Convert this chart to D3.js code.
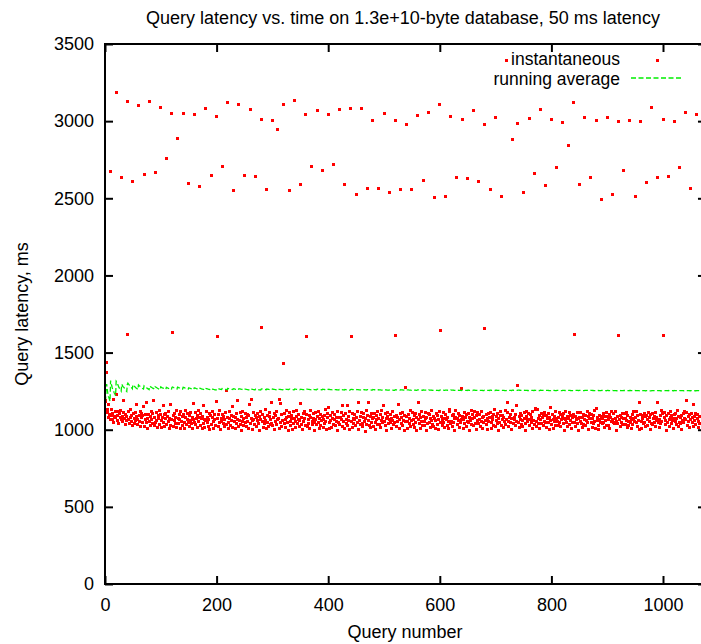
<!DOCTYPE html>
<html>
<head>
<meta charset="utf-8">
<script src="https://cdn.jsdelivr.net/npm/d3@7"></script>
<style>
  body { margin: 0; background: #fff; }
  text { font-family: "Liberation Sans", Arial, Helvetica, sans-serif; font-size: 18px; fill: #000; }
</style>
</head>
<body>
<svg id="chart" width="701" height="644"></svg>
<script>
const titleText = "Query latency vs. time on 1.3e+10-byte database, 50 ms latency";
const xLabel = "Query number";
const yLabel = "Query latency, ms";
const seriesNames = ["instantaneous", "running average"];
const xTicks = [0, 200, 400, 600, 800, 1000];
const yTicks = [0, 500, 1000, 1500, 2000, 2500, 3000, 3500];
const xMax = 1077;
const yMax = 3500;

// Latency of each query in ms, ten queries per row (row n = queries 10n .. 10n+9)
const latency = [
  1185, 1190, 1437, 1373, 1132, 1110, 1080, 1162, 1097, 1069,
  2673, 1089, 1128, 1067, 1104, 1193, 1050, 1083, 1121, 1076,
  3184, 1226, 1094, 1057, 1115, 1040, 1102, 1079, 1125, 1063,
  2634, 1086, 1051, 1109, 1190, 1073, 1034, 1100, 1062, 1088,
  3126, 1619, 1065, 1117, 1043, 1081, 1131, 1054, 1092, 1026,
  2608, 1107, 1072, 1038, 1113, 1060, 1085, 1166, 1031, 1069,
  3100, 1055, 1094, 1120, 1022, 1077, 1103, 1046, 1090, 1152,
  2654, 1019, 1066, 1101, 1048, 1174, 1075, 1010, 1097, 1052,
  3126, 1084, 1030, 1118, 1063, 1041, 1105, 1191, 1027, 1079,
  2667, 1045, 1111, 1058, 1016, 1089, 1071, 1123, 1034, 1098,
  3087, 1061, 1013, 1077, 1158, 1049, 1100, 1024, 1070, 1108,
  2757, 1036, 1083, 1119, 1054, 1005, 1075, 1164, 1029, 1067,
  3048, 1632, 1092, 1021, 1058, 1106, 1043, 1081, 1125, 1012,
  2887, 1074, 1039, 1100, 1065, 1008, 1116, 1053, 1085, 1028,
  3048, 1097, 1050, 1011, 1079, 1127, 1035, 1068, 1102, 1044,
  2596, 1022, 1091, 1059, 1113, 1040, 1006, 1076, 1172, 1063,
  3042, 1048, 1109, 1032, 1071, 1094, 1017, 1056, 1122, 1080,
  2576, 1103, 1026, 1075, 1009, 1088, 1160, 1041, 1067, 1015,
  3081, 1057, 1120, 1044, 1082, 1023, 1069, 1106, 1000, 1091,
  2647, 1033, 1078, 1115, 1052, 1007, 1099, 1064, 1028, 1182,
  3029, 1606, 1070, 1018, 1096, 1047, 1124, 1003, 1074, 1055,
  2705, 1101, 1042, 1083, 1021, 1066, 1110, 1256, 1037, 1076,
  3120, 1049, 1005, 1117, 1072, 1030, 1093, 1058, 1153, 1014,
  2550, 1085, 1053, 1008, 1079, 1106, 1040, 1189, 1066, 1023,
  3107, 1062, 1111, 1034,  996, 1088, 1051, 1119, 1073, 1027,
  2647, 1108, 1045, 1080, 1022, 1099, 1056, 1011, 1090, 1162,
  3074, 1039, 1198, 1075, 1058, 1003, 1114, 1067, 1032, 1095,
  2641, 1081, 1024, 1060, 1107, 1043,  998, 1086, 1069, 1121,
  3010, 1664, 1053, 1100, 1015, 1077, 1038, 1129, 1062, 1006,
  2557, 1094, 1050, 1019, 1083, 1112, 1031, 1068, 1174, 1042,
  3003, 1026, 1078, 1105, 1001, 1054, 1090, 1037, 1117, 1065,
  2945, 1072, 1009, 1198, 1172, 1046, 1098, 1021, 1059, 1426,
  3107, 1040, 1102, 1063, 1017, 1081, 1125, 1048,  994, 1087,
  2550, 1109, 1056, 1029, 1092, 1070, 1004, 1118, 1043, 1075,
  3133, 1051, 1013, 1084, 1127, 1039, 1066, 1101, 1022, 1060,
  2589, 1172, 1080, 1035,  999, 1108, 1052, 1073, 1116, 1028,
  3042, 1606, 1097, 1018, 1064, 1043, 1089, 1010, 1079, 1122,
  2705, 1055, 1031, 1103, 1075,  997, 1046, 1112, 1068, 1036,
  3068, 1086, 1121, 1049, 1007, 1072, 1100, 1025, 1058, 1083,
  2680, 1014, 1067, 1094, 1040, 1129, 1053, 1002, 1078, 1106,
  3042, 1146, 1045, 1011, 1091, 1060, 1016, 1074, 1110, 1033,
  2718, 1069, 1098, 1027, 1054, 1082,  995, 1115, 1044, 1076,
  3074, 1032, 1080, 1113, 1066, 1155, 1020, 1051, 1093, 1009,
  2589, 1103, 1038, 1063, 1155, 1026, 1084, 1057, 1000, 1119,
  3081, 1606, 1052, 1107, 1015, 1073, 1041, 1099, 1066, 1028,
  2524, 1081, 1120, 1047, 1176, 1004, 1062, 1088, 1035, 1111,
  3081, 1043, 1019, 1076, 1102, 1053,  991, 1070, 1124, 1037,
  2563, 1095, 1176, 1061, 1030, 1085, 1012, 1108, 1049, 1071,
  3003, 1018, 1079, 1104, 1045, 1000, 1090, 1063, 1117, 1032,
  2563, 1074, 1036, 1013, 1097, 1059, 1122, 1044, 1081, 1160,
  3048, 1053, 1106, 1027, 1071,  993, 1084, 1114, 1040, 1065,
  2537, 1100, 1048, 1075, 1009, 1119, 1057, 1031, 1088, 1046,
  3003, 1612, 1021, 1092, 1054, 1078, 1165, 1007, 1067, 1103,
  2557, 1039, 1077, 1113, 1028, 1062, 1095,  998, 1276, 1051,
  2977, 1083, 1055, 1006, 1098, 1040, 1072, 1126, 1019, 1060,
  2557, 1110, 1034, 1069, 1091, 1016, 1050, 1104, 1077,  997,
  3035, 1065, 1176, 1101, 1043, 1079, 1010, 1116, 1056, 1029,
  2615, 1088, 1025, 1052, 1111, 1070,  994, 1081, 1039, 1105,
  3055, 1047, 1096, 1014, 1073, 1123, 1058, 1031, 1085, 1020,
  2505, 1075, 1008, 1061, 1102, 1037, 1089, 1066, 1001, 1118,
  3107, 1645, 1050, 1083, 1026, 1067, 1109, 1044, 1075, 1012,
  2511, 1098, 1063, 1029, 1080, 1007, 1053, 1129, 1120, 1038,
  3029, 1056, 1090, 1018, 1044, 1101, 1071,  995, 1078, 1122,
  2634, 1032, 1074, 1106, 1059, 1017, 1094, 1048, 1269, 1065,
  3010, 1085, 1010, 1067, 1113, 1041, 1076, 1099, 1024, 1054,
  2628, 1108, 1049,  992, 1082, 1060, 1127, 1035, 1070, 1097,
  3068, 1027, 1080, 1115, 1043, 1003, 1091, 1062, 1109, 1038,
  2608, 1069, 1101, 1023, 1055, 1118, 1011, 1077, 1044, 1086,
  2977, 1658, 1058, 1096, 1032, 1071,  999, 1105, 1052, 1079,
  2557, 1113, 1046, 1009, 1084, 1065, 1028, 1100, 1132, 1021,
  3023, 1060, 1087, 1041, 1106,  998, 1073, 1048, 1089, 1115,
  2511, 1030, 1069, 1094, 1015, 1078, 1051, 1123, 1037, 1066,
  3393, 1176, 1111, 1056, 1020, 1082, 1045, 1097, 1003, 1074,
  2880, 1123, 1042, 1079, 1064, 1025, 1100, 1053, 1155, 1289,
  2984, 1048, 1083, 1012, 1106, 1069, 1034, 1091, 1057, 1022,
  2537, 1075, 1109, 1040,  993, 1086, 1121, 1051, 1067, 1102,
  3016, 1029, 1065, 1098, 1044, 1080, 1011, 1117, 1060, 1037,
  2660, 1129, 1140, 1053, 1018, 1129, 1074, 1042, 1095, 1006,
  3074, 1067, 1039, 1103, 1078, 1025, 1090, 1055, 1113, 1048,
  2583, 1092, 1016, 1072, 1044, 1107, 1000, 1081, 1146, 1059,
  3010, 1034, 1099, 1065, 1010, 1086, 1052, 1118, 1027, 1075,
  2699, 1053, 1080, 1027, 1110, 1045, 1096, 1019, 1063, 1088,
  2990, 1106, 1041, 1074,  998, 1069, 1115, 1050, 1083, 1023,
  2841, 1070, 1112, 1035, 1058, 1093, 1009, 1077, 1046, 1101,
  3120, 1619, 1047, 1087, 1021, 1064, 1109, 1040, 1073,  995,
  2589, 1082, 1056, 1110, 1043, 1017, 1078, 1099, 1032, 1066,
  3023, 1028, 1095, 1061, 1121, 1049, 1004, 1085, 1070, 1107,
  2634, 1101, 1044, 1016, 1075, 1090, 1038, 1122, 1053, 1011,
  3003, 1135, 1059, 1079, 1030, 1001, 1095, 1066, 1045, 1083,
  2492, 1040, 1072, 1103, 1048, 1084, 1013, 1057, 1109, 1026,
  3023, 1085, 1029, 1067, 1096, 1007, 1078, 1120, 1051, 1064,
  2524, 1049, 1102, 1038, 1073, 1115, 1054,  992, 1087, 1043,
  2997, 1612, 1063, 1091, 1022, 1079, 1048, 1106, 1035, 1070,
  2680, 1108, 1036, 1075, 1113, 1060, 1017, 1093, 1051, 1027,
  3003, 1044, 1081, 1009, 1066, 1100, 1033, 1119, 1074, 1056,
  2511, 1077, 1121, 1050, 1024, 1089, 1062, 1176, 1003, 1098,
  2997, 1055, 1010, 1094, 1071, 1040, 1107, 1046, 1083, 1018,
  2602, 1090, 1065, 1029, 1112, 1053, 1078, 1001, 1099, 1042,
  3087, 1031, 1104, 1073, 1045, 1086, 1019, 1110, 1058, 1076,
  2634, 1176, 1047, 1016, 1068, 1094, 1040, 1122, 1052, 1103,
  3010, 1612, 1079, 1113, 1037, 1062,  998, 1089, 1050, 1105,
  2641, 1067, 1024, 1081, 1116, 1043, 1095, 1057, 1011, 1074,
  2997, 1096, 1051, 1108, 1033, 1070, 1125, 1019, 1084, 1046,
  2699, 1039, 1078, 1000, 1092, 1061, 1107, 1048, 1075, 1121,
  3055, 1063, 1190, 1110, 1029, 1083, 1055, 1016, 1098, 1069,
  2563, 1104, 1045, 1077, 1023, 1161, 1088, 1060, 1105, 1032,
  3042, 1072, 1101, 1015, 1052, 1085, 1038
];

const colors = { instantaneous: "#ff0000", average: "#00ee00" };

const svg = d3.select("#chart");
const margin = { left: 105, top: 44, bottom: 584 };
const x = d3.scaleLinear().domain([0, xMax]).range([margin.left, margin.left + xMax * 0.558]);
const y = d3.scaleLinear().domain([0, yMax]).range([margin.bottom, margin.top]);

svg.append("rect").attr("width", 701).attr("height", 644).attr("fill", "#fff");

// Instantaneous latency points
const points = latency.map((v, i) => ({ q: i, v }));
const ps = 3;
svg.append("g").selectAll("rect").data(points).join("rect")
  .attr("x", d => x(d.q) - ps / 2)
  .attr("y", d => y(d.v) - ps / 2)
  .attr("width", ps).attr("height", ps)
  .attr("fill", colors.instantaneous)
  .attr("shape-rendering", "crispEdges");

// Running (cumulative) average of the latencies
let sum = 0;
const running = latency.map((v, i) => { sum += v; return { q: i, v: sum / (i + 1) }; });
svg.append("path")
  .datum(running)
  .attr("fill", "none")
  .attr("stroke", colors.average)
  .attr("stroke-width", 1.3)
  .attr("stroke-dasharray", "5,2.5")
  .attr("d", d3.line().x(d => x(d.q)).y(d => y(d.v)));

// Axes with inward ticks on all four sides
const axisStyle = g => {
  g.select(".domain").remove();
  g.selectAll(".tick line").attr("stroke", "#000").attr("stroke-width", 2);
  g.selectAll(".tick text").attr("fill", "#000").style("font-size", "18px")
    .style("font-family", '"Liberation Sans", Arial, Helvetica, sans-serif');
};
svg.append("g").attr("transform", `translate(0,${margin.bottom})`)
  .call(d3.axisBottom(x).tickValues(xTicks).tickSize(-8).tickPadding(14).tickFormat(d3.format("d")))
  .call(axisStyle);
svg.append("g").attr("transform", `translate(0,${margin.top})`)
  .call(d3.axisTop(x).tickValues(xTicks).tickSize(-8).tickFormat(""))
  .call(axisStyle);
svg.append("g").attr("transform", `translate(${margin.left},0)`)
  .call(d3.axisLeft(y).tickValues(yTicks).tickSize(-8).tickPadding(11).tickFormat(d3.format("d")))
  .call(axisStyle);
svg.append("g").attr("transform", `translate(${x(xMax)},0)`)
  .call(d3.axisRight(y).tickValues(yTicks).tickSize(-8).tickFormat(""))
  .call(axisStyle);

// Plot border
svg.append("rect")
  .attr("x", x(0)).attr("y", y(yMax))
  .attr("width", x(xMax) - x(0)).attr("height", y(0) - y(yMax))
  .attr("fill", "none").attr("stroke", "#000").attr("stroke-width", 2);

// Titles
svg.append("text").attr("x", 403).attr("y", 24).attr("text-anchor", "middle").text(titleText);
svg.append("text").attr("x", 405).attr("y", 638).attr("text-anchor", "middle").text(xLabel);
svg.append("text").attr("transform", "translate(28,314) rotate(-90)").attr("text-anchor", "middle").text(yLabel);

// Legend
const legendRight = 620;
const legendFont = "17.5px";
const legend = svg.append("g");
legend.append("text").attr("x", legendRight).attr("y", 65).attr("text-anchor", "end")
  .style("font-size", legendFont).text(seriesNames[0]);
legend.append("text").attr("x", legendRight).attr("y", 85).attr("text-anchor", "end")
  .style("font-size", legendFont).text(seriesNames[1]);
legend.append("rect").attr("x", 657 - ps / 2).attr("y", 60 - ps / 2).attr("width", ps).attr("height", ps)
  .attr("fill", colors.instantaneous).attr("shape-rendering", "crispEdges");
legend.append("line").attr("x1", 631).attr("x2", 683).attr("y1", 78).attr("y2", 78)
  .attr("stroke", colors.average).attr("stroke-width", 1.3).attr("stroke-dasharray", "5,2.5");
</script>
</body>
</html>
